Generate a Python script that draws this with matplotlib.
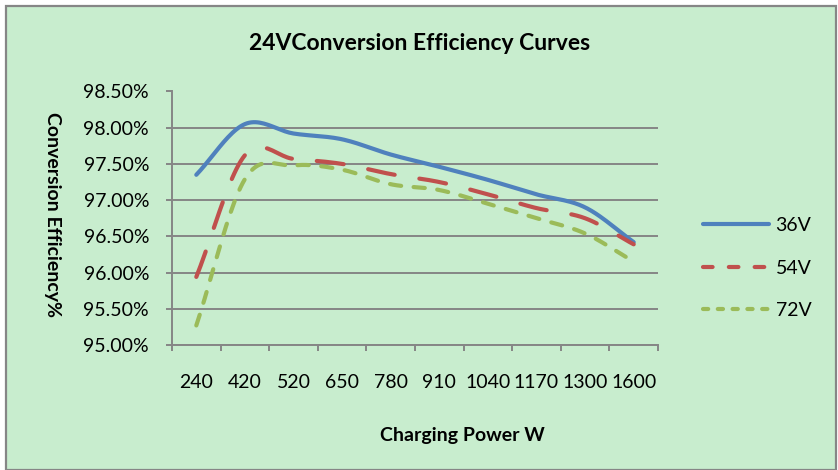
import numpy as np
import matplotlib.pyplot as plt
from matplotlib.lines import Line2D
from matplotlib.patches import Rectangle

plt.rcParams['font.family'] = ['Lato', 'DejaVu Sans']

power = ['240', '420', '520', '650', '780', '910', '1040', '1170', '1300', '1600']
eff_36v = [97.35, 98.05, 97.92, 97.84, 97.63, 97.46, 97.28, 97.08, 96.90, 96.42]
eff_54v = [95.94, 97.62, 97.57, 97.50, 97.36, 97.25, 97.08, 96.89, 96.75, 96.39]
eff_72v = [95.27, 97.29, 97.48, 97.42, 97.22, 97.14, 96.95, 96.75, 96.54, 96.15]
series = ['36V', '54V', '72V']

bg = '#C8EDCE'
grid_col = '#868686'
colors = ['#4F81BD', '#C0504D', '#9BBB59']


def smooth(xs, ys, steps=24):
    # bezier smoothing through every point, like spreadsheet "smoothed line"
    p = np.column_stack([xs, ys]).astype(float)
    p = np.vstack([2 * p[0] - p[1], p, 2 * p[-1] - p[-2]])
    out = []
    t = np.linspace(0, 1, steps)[:, None]
    for i in range(1, len(p) - 2):
        b0 = p[i]
        b1 = p[i] + (p[i + 1] - p[i - 1]) / 6
        b2 = p[i + 1] - (p[i + 2] - p[i]) / 6
        b3 = p[i + 1]
        seg = ((1 - t) ** 3 * b0 + 3 * (1 - t) ** 2 * t * b1
               + 3 * (1 - t) * t ** 2 * b2 + t ** 3 * b3)
        out.append(seg if i == 1 else seg[1:])
    out = np.vstack(out)
    return out[:, 0], out[:, 1]


fig = plt.figure(figsize=(8.38, 4.70), dpi=100, facecolor='white')
fig.patches.append(Rectangle((6 / 838, 0.0), 830 / 838, 464 / 470,
                             transform=fig.transFigure, facecolor=bg,
                             edgecolor=grid_col, linewidth=1.6, zorder=-10))

ax = fig.add_axes([172 / 838, 1 - 345 / 470, 486 / 838, 253.5 / 470])
ax.set_facecolor(bg)
ax.patch.set_alpha(0)

x = np.arange(len(power))
styles = [
    dict(linestyle='-'),
    dict(dashes=(6.5, 6.0)),
    dict(dashes=(2.7, 3.0)),
]
for vals, col, st in zip([eff_36v, eff_54v, eff_72v], colors, styles):
    sx, sy = smooth(x, vals)
    ax.plot(sx, sy, color=col, linewidth=3.0, solid_capstyle='round',
            dash_capstyle='round', zorder=3, **st)

ax.set_xlim(-0.5, len(power) - 0.5)
ax.set_ylim(95.0, 98.5)
yt = np.arange(95.0, 98.51, 0.5)
ax.set_yticks(yt)
ax.set_yticklabels([f'{v:.2f}%' for v in yt])
ax.set_xticks(x)
ax.set_xticklabels(power)
ax.set_xticks(np.arange(-0.5, len(power)), minor=True)
ax.yaxis.grid(True, color=grid_col, linewidth=1.4)
ax.set_axisbelow(True)

for s in ['top', 'right']:
    ax.spines[s].set_visible(False)
for s in ['left', 'bottom']:
    ax.spines[s].set_color(grid_col)
    ax.spines[s].set_linewidth(1.4)

ax.tick_params(axis='y', length=4.5, width=1.4, color=grid_col, pad=12,
               labelsize=14)
ax.tick_params(axis='x', which='major', length=0, pad=21, labelsize=14)
ax.tick_params(axis='x', which='minor', length=4.5, width=1.4, color=grid_col)

fig.text(420 / 838, 1 - 43 / 470, '24VConversion Efficiency Curves',
         ha='center', va='center', fontsize=16.5, fontweight='bold')
fig.text(462 / 838, 1 - 436 / 470, 'Charging Power W',
         ha='center', va='center', fontsize=14, fontweight='bold')
fig.text(52 / 838, 1 - 215 / 470, 'Conversion Efficiency%',
         ha='center', va='center', rotation=-90, fontsize=14,
         fontweight='bold')

handles = [
    Line2D([], [], color=colors[0], linewidth=3.0, solid_capstyle='round'),
    Line2D([], [], color=colors[1], linewidth=3.0, dashes=(2.3, 3.9),
           dash_capstyle='round'),
    Line2D([], [], color=colors[2], linewidth=3.0, dashes=(1.25, 2.3),
           dash_capstyle='round'),
]
fig.legend(handles, series, loc='center left',
           bbox_to_anchor=(685 / 838, 1 - 268 / 470), frameon=False,
           fontsize=14, handlelength=3.4, handletextpad=0.36,
           labelspacing=1.3)

fig.savefig('out.png', dpi=100, facecolor='white')
